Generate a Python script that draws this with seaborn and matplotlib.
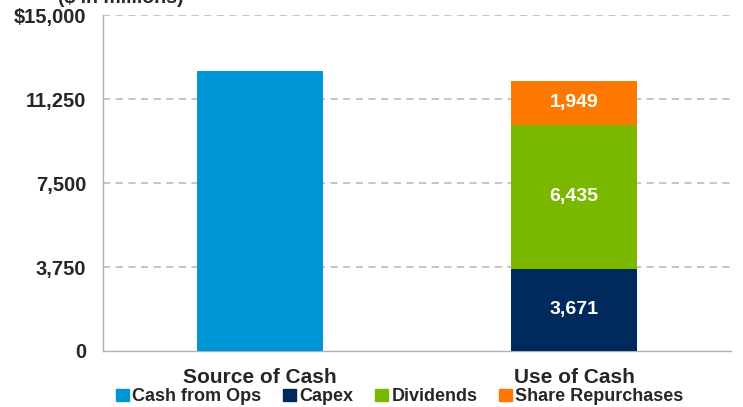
import matplotlib
matplotlib.use("Agg")
import matplotlib.pyplot as plt
import matplotlib.patches as mpatches
import seaborn as sns
import numpy as np

# data ($ in millions)
categories = ["Source of Cash", "Use of Cash"]
series_names = ["Cash from Ops", "Capex", "Dividends", "Share Repurchases"]
cash_from_ops = [12500, 0]
capex = [0, 3671]
dividends = [0, 6435]
share_repurchases = [0, 1949]
y_ticks = [0, 3750, 7500, 11250, 15000]
y_tick_labels = ["0", "3,750", "7,500", "11,250", "$15,000"]

colors = {
    "Cash from Ops": "#0096D6",
    "Capex": "#002A5C",
    "Dividends": "#7AB800",
    "Share Repurchases": "#FF7900",
}

sns.set_style("white")
plt.rcParams["font.family"] = ["Liberation Sans", "DejaVu Sans"]
plt.rcParams["font.weight"] = "bold"

fig = plt.figure(figsize=(7.43, 4.07), dpi=100)
ax = fig.add_axes([0.1386, 0.1376, 0.8454, 0.8255])

# stacked bars: draw cumulative totals, tallest first
stack = [capex, dividends, share_repurchases]
cum = np.cumsum(np.array(stack), axis=0)
order = ["Share Repurchases", "Dividends", "Capex"]
for name, vals in zip(order, cum[::-1]):
    sns.barplot(x=categories, y=vals, color=colors[name], width=0.4,
                saturation=1, linewidth=0, ax=ax, zorder=3)
sns.barplot(x=categories, y=cash_from_ops, color=colors["Cash from Ops"],
            width=0.4, saturation=1, linewidth=0, ax=ax, zorder=3)

# segment labels
bottoms = np.vstack([np.zeros(2), cum[:-1]])
for seg, bot in zip(stack, bottoms):
    for i, v in enumerate(seg):
        if v > 0:
            ax.text(i, bot[i] + v / 2, f"{v:,}", ha="center", va="center",
                    color="white", fontsize=14, fontweight="bold", zorder=4)

ax.set_xlim(-0.5, 1.5)
ax.set_ylim(0, 15000)
ax.set_yticks(y_ticks)
ax.set_yticklabels(y_tick_labels, fontsize=14.5, fontweight="bold")
ax.set_xticks([0, 1])
ax.set_xticklabels(categories, fontsize=15, fontweight="bold")
ax.tick_params(axis="x", length=0, pad=12)
ax.tick_params(axis="y", length=5, color="#b0b0b0", width=1, pad=7)

# minor ticks at category boundaries on the x axis
ax.set_xticks([-0.5, 0.5, 1.5], minor=True)
ax.tick_params(axis="x", which="minor", length=5, color="#b0b0b0", width=1)

for yv in y_ticks[1:]:
    ax.axhline(yv, color="#c0c0c0", lw=1.3, ls=(0, (4, 3)), zorder=1)

for s in ["top", "right"]:
    ax.spines[s].set_visible(False)
for s in ["left", "bottom"]:
    ax.spines[s].set_color("#b0b0b0")
    ax.spines[s].set_linewidth(1)
ax.set_xlabel("")
ax.set_ylabel("")

# title sits partly above the canvas, as in the original
fig.text(0.162, 0.9926, "($ in millions)", ha="center", va="baseline",
         fontsize=14, fontweight="bold")

handles = [mpatches.Patch(color=colors[n], label=n) for n in series_names]
fig.legend(handles=handles, loc="lower center", bbox_to_anchor=(0.538, -0.036),
           ncol=4, frameon=False, fontsize=13, handlelength=0.7,
           handleheight=0.7, handletextpad=0.2, columnspacing=1.2)

fig.savefig("out.png", dpi=100)
